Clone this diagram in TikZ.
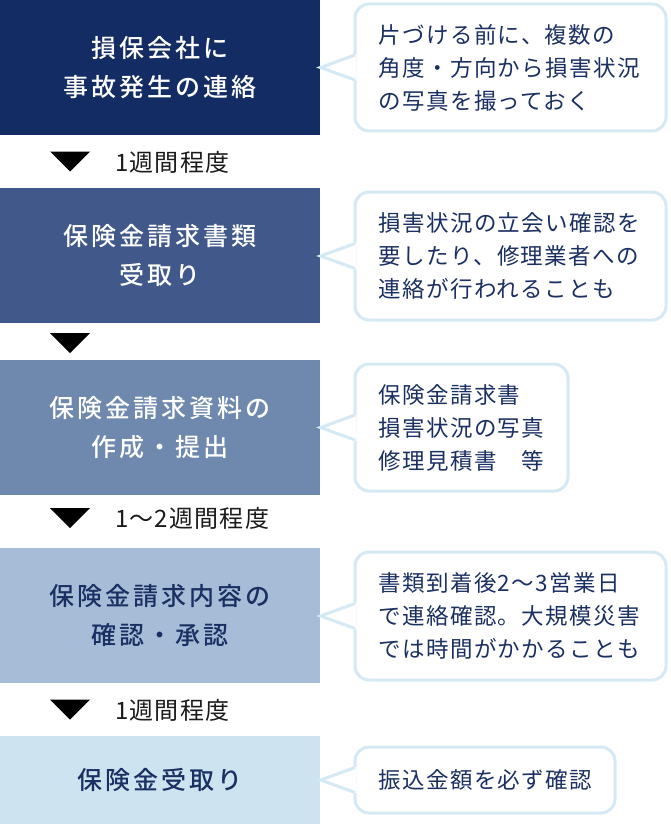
\documentclass[tikz,border=0pt]{standalone}
\usepackage{fontspec}
\setmainfont{Noto Sans CJK JP}
\newfontfamily\boxfont{Noto Sans CJK JP Medium}[LetterSpace=12]
\usetikzlibrary{calc}
\definecolor{bxa}{HTML}{132D64}
\definecolor{bxb}{HTML}{41598A}
\definecolor{bxc}{HTML}{6F88AE}
\definecolor{bxd}{HTML}{A7BDD7}
\definecolor{bxe}{HTML}{CDE3F0}
\definecolor{bord}{HTML}{D5E9F5}
\definecolor{dtext}{HTML}{1B3062}
\definecolor{lbltext}{HTML}{1A1A1A}
\tikzset{
  stepbox/.style={rectangle, inner sep=0pt, minimum width=320pt, align=center,
    font=\boxfont\fontsize{25}{39.5}\selectfont},
  callout/.style={rectangle, rounded corners=14pt, draw=bord, line width=3pt, fill=white, inner sep=0pt},
  calltext/.style={anchor=west, inner sep=0pt, align=left, text=dtext,
    font=\fontsize{22.5}{33}\selectfont\addfontfeature{LetterSpace=6}},
  lbl/.style={anchor=west, inner sep=0pt, text=lbltext,
    font=\fontsize{24}{28}\selectfont\addfontfeature{LetterSpace=5}},
  tri/.style={fill=black},
}
\newcommand{\pointer}[1]{%
  \fill[white] ($(#1.west)+(0,-13)$) -- ($(#1.west)+(-33,0)$) -- ($(#1.west)+(0,13)$) -- ($(#1.west)+(3.2,13)$) -- ($(#1.west)+(3.2,-13)$) -- cycle;
  \draw[bord, line width=3pt, line join=miter] ($(#1.west)+(1.5,-12.5)$) -- ($(#1.west)+(-33,0)$) -- ($(#1.west)+(1.5,12.5)$);
}
\begin{document}
\begin{tikzpicture}[x=1pt,y=-1pt]
\useasboundingbox (0,0) rectangle (670,824);
% step boxes
\node[stepbox, fill=bxa, text=white, minimum height=135pt] (b1) at (160,67.5) {損保会社に\\事故発生の連絡};
\node[stepbox, fill=bxb, text=white, minimum height=135pt] (b2) at (160,255.5) {保険金請求書類\\受取り};
\node[stepbox, fill=bxc, text=white, minimum height=135pt] (b3) at (160,427.5) {保険金請求資料の\\作成・提出};
\node[stepbox, fill=bxd, text=dtext, minimum height=135pt] (b4) at (160,615.5) {保険金請求内容の\\確認・承認};
\node[stepbox, fill=bxe, text=dtext, minimum height=88pt] (b5) at (160,780) {保険金受取り};
% arrows between steps
\fill[tri] (50,151.5) -- (90,151.5) -- (70,171.5) -- cycle;
\node[lbl] (l1) at (115,162) {1週間程度};
\fill[tri] (50,333) -- (90,333) -- (70,353) -- cycle;
\fill[tri] (50,508) -- (90,508) -- (70,528) -- cycle;
\node[lbl] (l3) at (115,518) {1〜2週間程度};
\fill[tri] (50,699.5) -- (90,699.5) -- (70,719.5) -- cycle;
\node[lbl] (l4) at (115,710) {1週間程度};
% callouts
\node[callout, minimum width=311pt, minimum height=127pt] (c1) at (510.5,67.5) {};
\pointer{c1}
\node[calltext] (t1) at ($(c1.west)+(25,0)$) {片づける前に、複数の\\角度・方向から損害状況\\の写真を撮っておく};
\node[callout, minimum width=311pt, minimum height=128pt] (c2) at (510.5,256) {};
\pointer{c2}
\node[calltext] (t2) at ($(c2.west)+(25,0)$) {損害状況の立会い確認を\\要したり、修理業者への\\連絡が行われることも};
\node[callout, minimum width=213pt, minimum height=127pt] (c3) at (461.5,427.5) {};
\pointer{c3}
\node[calltext] (t3) at ($(c3.west)+(25,0)$) {保険金請求書\\損害状況の写真\\修理見積書　等};
\node[callout, minimum width=311pt, minimum height=128pt] (c4) at (510.5,616) {};
\pointer{c4}
\node[calltext] (t4) at ($(c4.west)+(25,0)$) {書類到着後2〜3営業日\\で連絡確認。大規模災害\\では時間がかかることも};
\node[callout, minimum width=260pt, minimum height=66pt] (c5) at (485,780) {};
\pointer{c5}
\node[calltext] (t5) at ($(c5.west)+(25,0)$) {振込金額を必ず確認};
\end{tikzpicture}
\end{document}
